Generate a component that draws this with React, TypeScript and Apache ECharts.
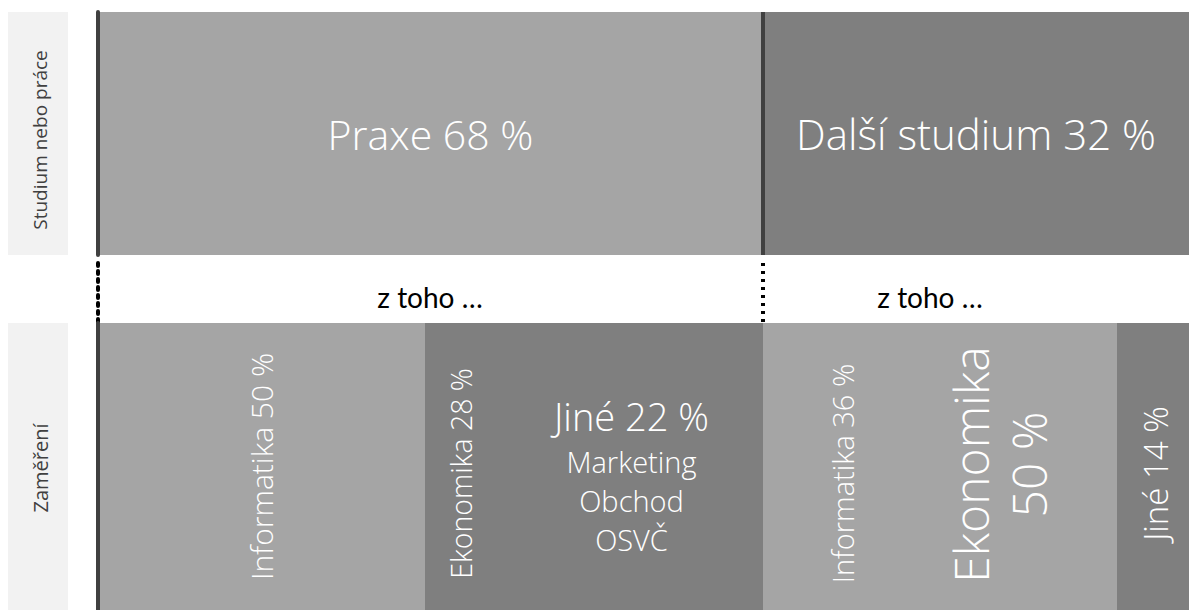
import React, { useEffect, useRef } from 'react';
import * as echarts from 'echarts';

// ---- data ----
const rowLabels = ['Studium nebo práce', 'Zaměření'];
const topNames = ['Praxe', 'Další studium'];
const topPercents = [68, 32];
const topWidths = [665, 426]; // relative widths as drawn (bar total 1091)
const focusNames = ['Informatika', 'Ekonomika', 'Jiné', 'Informatika', 'Ekonomika', 'Jiné'];
const focusPercents = [50, 28, 22, 36, 50, 14];
const focusWidths = [327, 75, 263, 158, 196, 72]; // relative widths as drawn (bar total 1091)
const otherDetails = ['Marketing', 'Obchod', 'OSVČ'];
const bridgeTexts = ['z toho …', 'z toho …'];
const WIDTH_TOTAL = 1091;

// ---- styles ----
const LIGHT = '#a5a5a5';
const DARK = '#7f7f7f';
const SEP = '#404040';
const FONT = '"Open Sans", "Noto Sans", sans-serif';
const WEIGHT = 300;
const topColors = [LIGHT, DARK];
const focusColors = [LIGHT, DARK, DARK, LIGHT, LIGHT, DARK];

const GRID_LEFT = 98;
const GRID_W = 1091;

export default function App() {
  const ref = useRef<HTMLDivElement>(null);

  useEffect(() => {
    if (!ref.current) return;
    const chart = echarts.init(ref.current, null, { renderer: 'svg' });

    const baseLabel = {
      show: true,
      position: 'inside',
      color: '#ffffff',
      fontFamily: FONT,
      fontWeight: WEIGHT,
    };

    const topSizes = [41, 42];
    const topSeries = topNames.map((name, i) => ({
      type: 'bar',
      name,
      xAxisIndex: 0,
      yAxisIndex: 0,
      stack: 'top',
      barWidth: '100%',
      itemStyle: { color: topColors[i] },
      label: {
        ...baseLabel,
        fontSize: topSizes[i],
        formatter: () => `${name} ${topPercents[i]} %`,
      },
      data: [topWidths[i]],
      markLine:
        i === 0
          ? {
              silent: true,
              symbol: 'none',
              label: { show: false },
              lineStyle: { color: SEP, width: 4, type: 'solid' },
              data: [{ xAxis: topWidths[0] }],
            }
          : undefined,
    }));

    const focusLabel = (i: number) => {
      const name = focusNames[i];
      const pct = focusPercents[i];
      if (i === 2) {
        return {
          ...baseLabel,
          offset: [0, 8],
          formatter: () =>
            `{a|${name} ${pct} %}\n` + otherDetails.map((d) => `{b|${d}}`).join('\n'),
          rich: {
            a: { fontSize: 38, lineHeight: 51, color: '#fff', fontFamily: FONT, fontWeight: WEIGHT },
            b: { fontSize: 29, lineHeight: 39, color: '#fff', fontFamily: FONT, fontWeight: WEIGHT },
          },
        };
      }
      if (i === 4) {
        return {
          ...baseLabel,
          rotate: 90,
          fontSize: 48,
          lineHeight: 58,
          offset: [2, -20],
          formatter: () => `${name}\n${pct} %`,
        };
      }
      const sizes: Record<number, number> = { 0: 30, 1: 28.5, 3: 29, 5: 33 };
      const offsets: Record<number, number[]> = { 0: [0, 0], 1: [-7, -2], 3: [-7, 0], 5: [-7, 2] };
      return {
        ...baseLabel,
        rotate: 90,
        fontSize: sizes[i],
        offset: offsets[i],
        formatter: () => `${name} ${pct} %`,
      };
    };

    const focusSeries = focusNames.map((name, i) => ({
      type: 'bar',
      name: `${name}-${i}`,
      xAxisIndex: 2,
      yAxisIndex: 2,
      stack: 'focus',
      barWidth: '100%',
      itemStyle: { color: focusColors[i] },
      label: focusLabel(i),
      data: [focusWidths[i]],
    }));

    const bridgeSeries = {
      type: 'line',
      xAxisIndex: 1,
      yAxisIndex: 1,
      data: [],
      markLine: {
        silent: true,
        symbol: 'none',
        label: { show: false },
        lineStyle: { color: '#000', width: 4, type: [3, 5] },
        data: [{ xAxis: topWidths[0] }],
      },
    };

    const xAxisBase = { type: 'value', min: 0, max: WIDTH_TOTAL, show: false };
    const yAxisBase = (grid: number, cat: string, dotted: boolean) => ({
      type: 'category',
      gridIndex: grid,
      data: [cat],
      z: 10,
      axisTick: { show: false },
      axisLabel: { show: false },
      axisLine: {
        show: true,
        lineStyle: dotted
          ? { color: '#000', width: 4, type: [3, 5] }
          : { color: SEP, width: 4 },
      },
    });

    const sideText = (text: string, y: number, size: number) => ({
      type: 'text',
      x: 40,
      y,
      rotation: Math.PI / 2,
      style: {
        text,
        fill: '#404040',
        font: `400 ${size}px ${FONT}`,
        align: 'center',
        verticalAlign: 'middle',
      },
    });

    const bridge = (text: string, x: number) => ({
      type: 'text',
      x,
      y: 297,
      style: {
        text,
        fill: '#000',
        font: `28px Lato, "Open Sans", sans-serif`,
        align: 'center',
        verticalAlign: 'middle',
      },
    });

    chart.setOption({
      animation: false,
      grid: [
        { left: GRID_LEFT, top: 12, width: GRID_W, height: 243 },
        { left: GRID_LEFT, top: 258, width: GRID_W, height: 64 },
        { left: GRID_LEFT, top: 323, width: GRID_W, height: 287 },
      ],
      xAxis: [0, 1, 2].map((g) => ({ ...xAxisBase, gridIndex: g })),
      yAxis: [
        yAxisBase(0, rowLabels[0], false),
        yAxisBase(1, 'z toho', true),
        yAxisBase(2, rowLabels[1], false),
      ],
      series: [...topSeries, bridgeSeries, ...focusSeries],
      graphic: [
        { type: 'rect', shape: { x: 8, y: 12, width: 60, height: 243 }, style: { fill: '#f2f2f2' } },
        { type: 'rect', shape: { x: 8, y: 323, width: 60, height: 287 }, style: { fill: '#f2f2f2' } },
        sideText(rowLabels[0], 140, 19),
        sideText(rowLabels[1], 468, 20),
        bridge(bridgeTexts[0], 430),
        bridge(bridgeTexts[1], 930),
      ],
    });

    return () => chart.dispose();
  }, []);

  return (
    <div
      ref={ref}
      style={{ position: 'absolute', left: 0, top: 0, width: 1189, height: 610, background: '#fff' }}
    />
  );
}
